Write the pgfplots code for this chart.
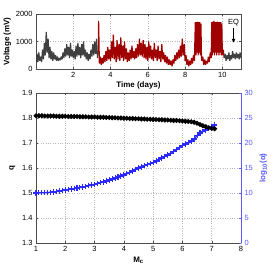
\documentclass[border=0pt]{standalone}
\usepackage{fontspec}
\setmainfont{Liberation Sans}
\usepackage{pgfplots}
\pgfplotsset{compat=1.18}
\usetikzlibrary{arrows.meta}
\definecolor{dgray}{HTML}{404040}
\definecolor{dred}{HTML}{A00000}
\definecolor{lblue}{HTML}{5A5AFF}
\definecolor{pblue}{HTML}{2A2AFF}
\begin{document}
\begin{tikzpicture}
\useasboundingbox (-36bp,-32bp) rectangle (238bp,243bp);
\pgfplotsset{every axis/.append style={scale only axis,
  font=\fontsize{7.5}{8}\selectfont,
  /pgf/number format/assume math mode=true,
  /pgf/number format/1000 sep={},
  axis line style={gray!60!black},
  tick style={gray!60!black, major tick length=2bp},
  tick align=inside,
  grid style={dotted, gray!55, line width=0.5pt},
  label style={font=\fontsize{8}{9}\selectfont\bfseries}}}
% ---------- top axis ----------
\begin{axis}[name=top, at={(0,174bp)}, anchor=south west,
  width=205bp, height=55bp,
  xmin=0, xmax=11, ymin=0, ymax=2000,
  xtick={2,4,6,8,10}, ytick={0,1000,2000},
  scaled y ticks=false,
  grid=major,
  xlabel={Time (days)}, ylabel={Voltage (mV)},
  xlabel style={yshift=3bp},
  ylabel style={yshift=-2bp}]
\addplot[dgray, line width=1.2pt, line join=bevel] coordinates {
(0.00,200)(0.05,550)(0.10,250)(0.15,600)(0.20,300)(0.25,450)(0.30,250)(0.35,700)
(0.40,350)(0.45,950)(0.50,500)(0.55,1350)(0.60,600)(0.65,1100)(0.70,400)(0.75,800)
(0.80,350)(0.85,650)(0.90,300)(0.95,600)(1.00,350)(1.05,500)(1.10,300)(1.15,450)
(1.20,300)(1.25,400)(1.30,320)(1.35,450)(1.40,350)(1.45,600)(1.50,400)(1.55,750)
(1.60,450)(1.65,900)(1.70,500)(1.75,800)(1.80,400)(1.85,950)(1.90,450)(1.95,700)
(2.00,400)(2.05,650)(2.10,350)(2.15,850)(2.20,450)(2.25,950)(2.30,500)(2.35,800)
(2.40,400)(2.45,900)(2.50,500)(2.55,1000)(2.60,450)(2.65,700)(2.70,350)(2.75,600)
(2.80,300)(2.85,550)(2.90,350)(2.95,700)(3.00,450)(3.05,900)(3.10,500)(3.15,1000)
(3.20,550)(3.25,1100)(3.30,400)(3.35,600)};
\addplot[dred, line width=1.2pt, line join=bevel] coordinates {
(3.35,600)(3.36,1750)(3.40,200)(3.45,450)(3.50,150)(3.55,400)(3.60,200)(3.65,500)
(3.70,250)(3.75,650)(3.80,300)(3.85,800)(3.90,350)(3.95,700)(4.00,300)(4.05,1000)
(4.10,400)(4.15,1250)(4.20,350)(4.25,800)(4.30,250)(4.35,1050)(4.40,350)(4.45,900)
(4.50,300)(4.55,1150)(4.60,400)(4.65,850)(4.70,300)(4.75,1000)(4.80,350)(4.85,750)
(4.90,250)(4.95,600)(5.00,300)(5.05,700)(5.10,350)(5.15,850)(5.20,400)(5.25,650)
(5.30,350)(5.35,750)(5.40,400)(5.45,900)(5.50,450)(5.55,1100)(5.60,500)(5.65,950)
(5.70,450)(5.75,1050)(5.80,400)(5.85,900)(5.90,350)(5.95,800)(6.00,300)(6.05,1000)
(6.10,400)(6.15,850)(6.20,350)(6.25,700)(6.30,300)(6.35,950)(6.40,400)(6.45,700)
(6.50,300)(6.55,850)(6.60,350)(6.65,650)(6.70,250)(6.75,900)(6.80,350)(6.85,600)
(6.90,250)(6.95,500)(7.00,200)(7.05,450)(7.10,150)(7.15,350)(7.20,150)(7.25,300)
(7.30,100)(7.35,350)(7.40,200)(7.45,500)(7.50,300)(7.55,600)(7.60,350)(7.65,700)
(7.70,400)(7.75,850)(7.80,450)(7.85,1100)(7.90,500)(7.95,900)(8.00,300)(8.05,500)
(8.10,150)(8.15,350)(8.20,100)(8.25,300)(8.30,150)(8.35,400)(8.40,200)(8.45,500)
(8.50,300)(8.55,1700)(8.58,500)(8.61,1700)(8.64,600)(8.67,1720)(8.70,500)(8.73,1700)
(8.76,600)(8.79,1700)(8.82,500)(8.85,1650)(8.88,400)
(8.90,300)(8.95,450)(9.00,150)(9.05,350)(9.10,150)(9.15,300)(9.20,200)(9.25,450)
(9.30,250)(9.35,600)(9.40,400)(9.43,1700)(9.46,500)(9.49,1720)(9.52,600)(9.55,1750)
(9.58,500)(9.61,1700)(9.64,600)(9.67,1700)(9.70,500)(9.73,1720)(9.76,600)(9.79,1700)
(9.82,500)(9.85,1700)(9.88,600)(9.91,1700)(9.94,500)(9.97,1650)(10.00,500)(10.05,700)
(10.10,400)};
\addplot[dgray, line width=1.2pt, line join=bevel] coordinates {
(10.10,400)(10.15,550)(10.20,300)(10.25,500)(10.30,350)(10.35,600)(10.40,300)(10.45,500)
(10.50,350)(10.55,650)(10.60,400)(10.65,550)(10.70,350)(10.75,600)(10.80,400)(10.85,550)
(10.90,350)(10.95,600)(11.00,400)};
\node[font=\fontsize{7.5}{8}\selectfont] at (axis cs:10.6,1700) {EQ};
\draw[-{Latex[length=4bp,width=4bp]}, line width=0.6pt] (axis cs:10.6,1480) -- (axis cs:10.6,950);
\end{axis}
% ---------- bottom left axis ----------
\begin{axis}[name=bot, at={(0,0)}, anchor=south west,
  width=205bp, height=150bp,
  xmin=1, xmax=8, ymin=1.3, ymax=1.9,
  xtick={1,...,8}, ytick={1.3,1.4,...,1.9},
  yticklabel style={/pgf/number format/fixed, /pgf/number format/precision=1},
  axis y line*=left, 
  grid=major,
  xlabel={M$_{\mathbf{c}}$}, ylabel={q},
  xlabel style={yshift=2bp}]
\draw[gray!60!black] (rel axis cs:0,1) -- (rel axis cs:1,1);
\end{axis}
% ---------- bottom right axis ----------
\begin{axis}[at={(0,0)}, anchor=south west,
  width=205bp, height=150bp,
  xmin=1, xmax=8, ymin=0, ymax=30,
  axis x line=none, axis y line*=right,
  ytick={0,5,...,30},
  y axis line style={lblue}, ytick style={lblue},
  yticklabel style={lblue},
  ylabel={log\textsubscript{10}(α)},
  ylabel style={lblue}]
\addplot[pblue, mark=+, mark size=2.6pt, line width=1.3pt, mark options={line width=1.1pt}] coordinates {
(1.0,10.0)(1.1,10.02)(1.2,10.04)(1.3,10.07)(1.4,10.1)(1.5,10.15)(1.6,10.2)(1.7,10.3)
(1.8,10.4)(1.9,10.5)(2.0,10.6)(2.1,10.7)(2.2,10.8)(2.3,10.9)(2.4,11.0)(2.5,11.1)
(2.6,11.2)(2.7,11.3)(2.8,11.45)(2.9,11.6)(3.0,11.75)(3.1,11.9)(3.2,12.05)(3.3,12.2)
(3.4,12.4)(3.5,12.6)(3.6,12.8)(3.7,13.0)(3.8,13.2)(3.9,13.4)(4.0,13.6)(4.1,13.85)
(4.2,14.1)(4.3,14.4)(4.4,14.7)(4.5,15.0)(4.6,15.2)(4.7,15.45)(4.8,15.7)(4.9,15.9)
(5.0,16.1)(5.1,16.4)(5.2,16.7)(5.3,17.0)(5.4,17.3)(5.5,17.6)(5.6,17.9)(5.7,18.3)
(5.8,18.7)(5.9,19.1)(6.0,19.5)(6.1,19.8)(6.2,20.1)(6.3,20.4)(6.4,20.8)(6.5,21.5)
(6.6,22.0)(6.7,22.3)(6.8,22.6)(6.9,22.9)(7.0,23.2)(7.1,23.6)};
\end{axis}
% ---------- black q curve ----------
\begin{axis}[at={(0,0)}, anchor=south west,
  width=205bp, height=150bp,
  xmin=1, xmax=8, ymin=1.3, ymax=1.9, hide axis]
\addplot[black, mark=*, mark size=1.7pt, line width=1.4pt] coordinates {
(1.0,1.809)(1.1,1.809)(1.2,1.809)(1.3,1.808)(1.4,1.808)(1.5,1.808)(1.6,1.808)(1.7,1.807)
(1.8,1.807)(1.9,1.807)(2.0,1.807)(2.1,1.806)(2.2,1.806)(2.3,1.806)(2.4,1.806)(2.5,1.805)
(2.6,1.805)(2.7,1.805)(2.8,1.804)(2.9,1.804)(3.0,1.804)(3.1,1.803)(3.2,1.803)(3.3,1.803)
(3.4,1.802)(3.5,1.802)(3.6,1.801)(3.7,1.801)(3.8,1.800)(3.9,1.800)(4.0,1.799)(4.1,1.799)
(4.2,1.798)(4.3,1.798)(4.4,1.797)(4.5,1.797)(4.6,1.796)(4.7,1.796)(4.8,1.795)(4.9,1.795)
(5.0,1.794)(5.1,1.794)(5.2,1.793)(5.3,1.793)(5.4,1.792)(5.5,1.792)(5.6,1.791)(5.7,1.790)
(5.8,1.790)(5.9,1.789)(6.0,1.788)(6.1,1.787)(6.2,1.786)(6.3,1.785)(6.4,1.783)(6.5,1.779)
(6.6,1.774)(6.7,1.769)(6.8,1.765)(6.9,1.761)(7.0,1.758)(7.1,1.757)};
\end{axis}
\end{tikzpicture}
\end{document}
